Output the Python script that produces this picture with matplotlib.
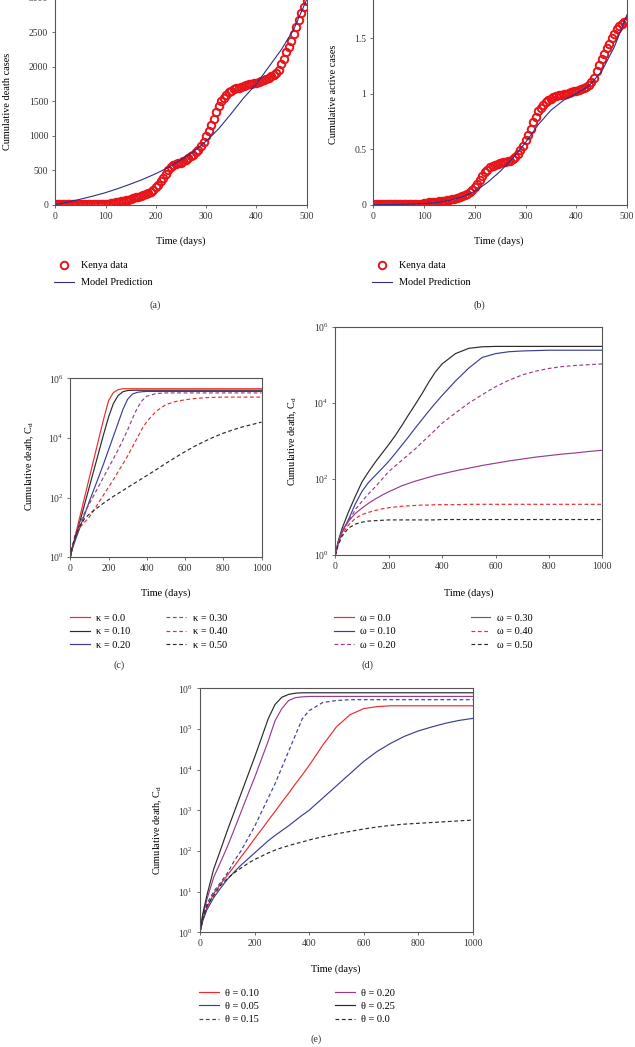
import numpy as np
import matplotlib
matplotlib.use("Agg")
import matplotlib.pyplot as plt
from matplotlib.lines import Line2D
from matplotlib.ticker import FixedLocator, NullLocator, LogFormatterSciNotation

plt.rcParams['font.family'] = ['Liberation Serif', 'DejaVu Serif']
plt.rcParams['mathtext.fontset'] = 'custom'
plt.rcParams['mathtext.rm'] = 'Liberation Serif'
plt.rcParams['mathtext.it'] = 'Liberation Serif:italic'
plt.rcParams['font.size'] = 7

TICK_FS = 6.9
LABEL_FS = 7.4

# ---- (a) / (b) Kenya data, one value every 5 days ----
days_data = np.arange(0, 505, 5)
deaths_data = [5, 5, 5, 5, 5, 5, 5, 5, 5, 5, 5, 5, 5, 5, 6, 6, 7, 8, 9, 10,
               12, 15, 20, 28, 35, 42, 48, 55, 65, 75, 85, 98, 108, 118, 130, 145, 158, 172, 190, 220,
               250, 290, 340, 385, 440, 500, 545, 570, 585, 600, 612, 628, 650, 675, 700, 725, 760, 800, 850, 910,
               990, 1070, 1150, 1240, 1340, 1430, 1500, 1550, 1590, 1630, 1655, 1675, 1690, 1700, 1712, 1722, 1735, 1745, 1752, 1760,
               1770, 1780, 1795, 1808, 1825, 1845, 1865, 1885, 1910, 1960, 2040, 2120, 2210, 2290, 2380, 2480, 2580, 2680, 2780, 2870,
               2960]
active_data = [0.01] * 20 + [
    0.015, 0.018, 0.02, 0.022, 0.025, 0.027, 0.03, 0.032, 0.035, 0.04, 0.045, 0.05, 0.055, 0.06, 0.065, 0.075, 0.085, 0.095, 0.11, 0.13,
    0.155, 0.185, 0.22, 0.255, 0.29, 0.315, 0.335, 0.35, 0.36, 0.37, 0.375, 0.38, 0.385, 0.39, 0.395, 0.41, 0.43, 0.46, 0.49, 0.53,
    0.58, 0.63, 0.68, 0.74, 0.79, 0.84, 0.87, 0.9, 0.92, 0.94, 0.955, 0.965, 0.975, 0.985, 0.99, 0.995, 1.0, 1.005, 1.01, 1.02,
    1.025, 1.03, 1.04, 1.05, 1.06, 1.075, 1.1, 1.14, 1.2, 1.26, 1.31, 1.36, 1.41, 1.45, 1.5, 1.54, 1.58, 1.61, 1.63, 1.645,
    1.655]

days_model = np.arange(0, 525, 25)
deaths_model = [0, 38, 80, 125, 175, 235, 300, 370, 450, 540, 650, 770, 920, 1100, 1320, 1550, 1750, 2000, 2250, 2550, 2970]
active_model = [0, 0.001, 0.003, 0.006, 0.01, 0.02, 0.04, 0.07, 0.12, 0.2, 0.3, 0.42, 0.56, 0.72, 0.85, 0.94, 1.0, 1.07, 1.2, 1.42, 1.71]

# ---- (c)(d)(e) simulations, log10 of cumulative deaths ----
days_sim = [0, 10, 25, 50, 75, 100, 125, 150, 175, 200, 225, 250, 275, 300, 325, 350, 375, 400,
            450, 500, 550, 600, 650, 700, 750, 800, 850, 900, 950, 1000]

kappa_labels = ['κ = 0.0', 'κ = 0.10', 'κ = 0.20', 'κ = 0.30', 'κ = 0.40', 'κ = 0.50']
kappa_log = [
    [0, 0.3, 0.7, 1.36, 2.02, 2.68, 3.34, 4.0, 4.65, 5.25, 5.52, 5.62, 5.65, 5.65, 5.65, 5.65, 5.65, 5.65,
     5.65, 5.65, 5.65, 5.65, 5.65, 5.65, 5.65, 5.65, 5.65, 5.65, 5.65, 5.65],
    [0, 0.3, 0.6, 1.19, 1.78, 2.37, 2.96, 3.55, 4.14, 4.7, 5.15, 5.42, 5.55, 5.59, 5.6, 5.6, 5.6, 5.6,
     5.6, 5.6, 5.6, 5.6, 5.6, 5.6, 5.6, 5.6, 5.6, 5.6, 5.6, 5.6],
    [0, 0.28, 0.55, 0.99, 1.44, 1.88, 2.3, 2.72, 3.15, 3.6, 4.05, 4.5, 4.95, 5.3, 5.47, 5.53, 5.55, 5.56,
     5.56, 5.56, 5.56, 5.56, 5.56, 5.56, 5.56, 5.56, 5.56, 5.56, 5.56, 5.56],
    [0, 0.3, 0.75, 1.15, 1.5, 1.8, 2.1, 2.4, 2.7, 3.0, 3.3, 3.6, 3.93, 4.27, 4.65, 5.0, 5.25, 5.4,
     5.49, 5.51, 5.51, 5.51, 5.51, 5.51, 5.51, 5.51, 5.51, 5.51, 5.51, 5.51],
    [0, 0.3, 0.7, 1.0, 1.18, 1.35, 1.6, 1.85, 2.1, 2.35, 2.6, 2.87, 3.13, 3.4, 3.7, 4.0, 4.3, 4.55,
     4.9, 5.12, 5.22, 5.28, 5.32, 5.35, 5.36, 5.37, 5.37, 5.37, 5.37, 5.37],
    [0, 0.35, 0.7, 1.05, 1.3, 1.45, 1.58, 1.7, 1.82, 1.93, 2.04, 2.14, 2.24, 2.34, 2.44, 2.54, 2.64, 2.74,
     2.94, 3.15, 3.35, 3.54, 3.72, 3.88, 4.03, 4.16, 4.27, 4.37, 4.45, 4.53],
]

omega_labels = ['ω = 0.0', 'ω = 0.10', 'ω = 0.20', 'ω = 0.30', 'ω = 0.40', 'ω = 0.50']
omega_log = [
    [0, 0.35, 0.7, 1.15, 1.55, 1.93, 2.2, 2.45, 2.68, 2.91, 3.15, 3.42, 3.7, 3.97, 4.25, 4.55, 4.82, 5.03,
     5.3, 5.44, 5.48, 5.49, 5.49, 5.49, 5.49, 5.49, 5.49, 5.49, 5.49, 5.49],
    [0, 0.3, 0.6, 0.95, 1.35, 1.68, 1.92, 2.1, 2.28, 2.47, 2.68, 2.9, 3.12, 3.35, 3.57, 3.79, 4.0, 4.2,
     4.58, 4.92, 5.2, 5.3, 5.35, 5.37, 5.38, 5.39, 5.39, 5.39, 5.39, 5.39],
    [0, 0.3, 0.6, 0.9, 1.2, 1.42, 1.62, 1.8, 2.0, 2.2, 2.35, 2.5, 2.65, 2.8, 2.97, 3.13, 3.3, 3.47,
     3.74, 4.0, 4.22, 4.43, 4.6, 4.74, 4.84, 4.91, 4.96, 4.99, 5.01, 5.03],
    [0, 0.3, 0.65, 0.9, 1.1, 1.24, 1.37, 1.48, 1.58, 1.67, 1.75, 1.83, 1.89, 1.95, 2.0, 2.05, 2.1, 2.14,
     2.22, 2.29, 2.36, 2.42, 2.48, 2.53, 2.58, 2.62, 2.66, 2.69, 2.73, 2.76],
    [0, 0.28, 0.55, 0.8, 0.97, 1.07, 1.13, 1.18, 1.22, 1.25, 1.27, 1.29, 1.3, 1.31, 1.32, 1.32, 1.33, 1.33,
     1.33, 1.34, 1.34, 1.34, 1.34, 1.34, 1.34, 1.34, 1.34, 1.34, 1.34, 1.34],
    [0, 0.25, 0.5, 0.72, 0.82, 0.87, 0.9, 0.91, 0.92, 0.93, 0.93, 0.93, 0.93, 0.93, 0.93, 0.93, 0.93, 0.94,
     0.94, 0.94, 0.94, 0.94, 0.94, 0.94, 0.94, 0.94, 0.94, 0.94, 0.94, 0.94],
]

theta_labels = ['θ = 0.10', 'θ = 0.05', 'θ = 0.15', 'θ = 0.20', 'θ = 0.25', 'θ = 0.0']
theta_log = [
    [0, 0.3, 0.6, 0.95, 1.18, 1.4, 1.62, 1.85, 2.07, 2.3, 2.52, 2.75, 2.97, 3.2, 3.42, 3.65, 3.87, 4.1,
     4.6, 5.05, 5.35, 5.5, 5.55, 5.57, 5.57, 5.57, 5.57, 5.57, 5.57, 5.57],
    [0, 0.28, 0.55, 0.85, 1.08, 1.3, 1.48, 1.65, 1.8, 1.95, 2.1, 2.25, 2.38, 2.5, 2.62, 2.75, 2.88, 3.0,
     3.3, 3.6, 3.9, 4.2, 4.45, 4.65, 4.82, 4.95, 5.05, 5.14, 5.21, 5.26],
    [0, 0.35, 0.7, 1.0, 1.22, 1.45, 1.75, 2.0, 2.3, 2.6, 2.95, 3.3, 3.65, 4.05, 4.45, 4.85, 5.25, 5.45,
     5.65, 5.7, 5.72, 5.72, 5.72, 5.72, 5.72, 5.72, 5.72, 5.72, 5.72, 5.72],
    [0, 0.4, 0.8, 1.35, 1.72, 2.1, 2.52, 2.95, 3.38, 3.8, 4.25, 4.7, 5.2, 5.5, 5.7, 5.77, 5.79, 5.8,
     5.8, 5.8, 5.8, 5.8, 5.8, 5.8, 5.8, 5.8, 5.8, 5.8, 5.8, 5.8],
    [0, 0.45, 0.9, 1.55, 2.02, 2.5, 2.95, 3.4, 3.85, 4.3, 4.77, 5.25, 5.6, 5.78, 5.85, 5.88, 5.89, 5.89,
     5.89, 5.89, 5.89, 5.89, 5.89, 5.89, 5.89, 5.89, 5.89, 5.89, 5.89, 5.89],
    [0, 0.35, 0.65, 0.9, 1.15, 1.32, 1.46, 1.58, 1.69, 1.79, 1.87, 1.95, 2.02, 2.08, 2.13, 2.18, 2.22, 2.27,
     2.35, 2.42, 2.48, 2.54, 2.59, 2.63, 2.66, 2.68, 2.7, 2.72, 2.74, 2.76],
]

RED = '#ee2a2a'
BLACK = '#2b2b2b'
BLUE = '#3a3f95'
PURPLE = '#9a3c8c'
DASH = (0, (3.2, 2.2))

kappa_style = [(RED, '-'), (BLACK, '-'), (BLUE, '-'), (PURPLE, DASH), (RED, DASH), (BLACK, DASH)]
omega_style = [(BLACK, '-'), (BLUE, '-'), (PURPLE, DASH), (PURPLE, '-'), (RED, DASH), (BLACK, DASH)]
theta_style = [(RED, '-'), (BLUE, '-'), (BLUE, DASH), (PURPLE, '-'), (BLACK, '-'), (BLACK, DASH)]

W, H = 635, 1047
fig = plt.figure(figsize=(W / 100, H / 100), dpi=100)


def px_axes(x0, y0, x1, y1):
    return fig.add_axes([x0 / W, 1 - y1 / H, (x1 - x0) / W, (y1 - y0) / H])


def style(ax):
    for s in ax.spines.values():
        s.set_color('#555555')
        s.set_linewidth(0.8)
    ax.tick_params(direction='out', length=2.5, width=0.6, color='#555555',
                   labelcolor='#333333', pad=2.5, labelsize=TICK_FS)


def place_labels(ax, xl, yl):
    ax.xaxis.set_label_coords(xl[0] / W, 1 - xl[1] / H, transform=fig.transFigure)
    ax.yaxis.set_label_coords(yl[0] / W, 1 - yl[1] / H, transform=fig.transFigure)
    ax.xaxis.label.set_va('center')
    ax.yaxis.label.set_va('center')


def legend(ax, handles, labels, x, y, ncol, colsp, lsp, pad=0.75):
    ax.legend(handles, labels, loc='upper left', bbox_to_anchor=(x / W, 1 - y / H),
              bbox_transform=fig.transFigure, frameon=False, ncol=ncol, borderpad=0,
              borderaxespad=0, handlelength=1.9, handletextpad=pad,
              columnspacing=colsp, labelspacing=lsp, fontsize=LABEL_FS)


# (a)
ax = px_axes(55.3, -2.1, 306.5, 204.7)
style(ax)
d_pts, = ax.plot(days_data, deaths_data, 'o', mfc='none', mec='#e8141a', ms=5.4, mew=1.4)
m_line, = ax.plot(days_model, deaths_model, color='#2c3185', lw=0.8)
ax.set_xlim(0, 500)
ax.set_ylim(0, 3000)
ax.set_xticks(range(0, 501, 100))
ax.set_yticks(range(0, 3001, 500))
ax.set_xlabel('Time (days)', fontsize=LABEL_FS)
ax.set_ylabel('Cumulative death cases', fontsize=LABEL_FS)
place_labels(ax, (181, 241), (8, 101))
legend(ax, [d_pts, m_line], ['Kenya data', 'Model Prediction'], 54, 261, 1, 2, 0.78)

# (b)
ax = px_axes(373.3, -17.5, 627, 204.7)
style(ax)
d_pts, = ax.plot(days_data, active_data, 'o', mfc='none', mec='#e8141a', ms=5.4, mew=1.4)
m_line, = ax.plot(days_model, active_model, color='#2c3185', lw=0.8)
ax.set_xlim(0, 500)
ax.set_ylim(0, 2)
ax.set_xticks(range(0, 501, 100))
ax.set_yticks([0, 0.5, 1, 1.5])
ax.set_yticklabels(['0', '0.5', '1', '1.5'])
ax.set_xlabel('Time (days)', fontsize=LABEL_FS)
ax.set_ylabel('Cumulative active cases', fontsize=LABEL_FS)
place_labels(ax, (499, 241), (333, 94))
legend(ax, [d_pts, m_line], ['Kenya data', 'Model Prediction'], 372, 261, 1, 2, 0.78)


def log_panel(box, logs, styles, labels, xl, yl, leg_xy, colsp, lsp, yticks, swap_first=None):
    ax = px_axes(*box)
    style(ax)
    lines = []
    for vals, (c, ls) in zip(logs, styles):
        ln, = ax.plot(days_sim, np.power(10.0, vals), color=c, ls=ls, lw=0.85)
        lines.append(ln)
    ax.set_yscale('log')
    ax.set_xlim(0, 1000)
    ax.set_ylim(1, 1e6)
    ax.set_xticks(range(0, 1001, 200))
    ax.yaxis.set_major_locator(FixedLocator(yticks))
    ax.yaxis.set_major_formatter(LogFormatterSciNotation())
    ax.yaxis.set_minor_locator(NullLocator())
    ax.set_xlabel('Time (days)', fontsize=LABEL_FS)
    ax.set_ylabel('Cumulative death, C$_\\mathrm{d}$', fontsize=LABEL_FS)
    place_labels(ax, xl, yl)
    handles = list(lines)
    if swap_first is not None:
        handles[0] = Line2D([], [], color=swap_first, lw=0.85)
    legend(ax, handles, labels, leg_xy[0], leg_xy[1], 2, colsp, lsp, pad=0.65)
    return ax


log_panel((70.3, 378.3, 261.5, 557.3), kappa_log, kappa_style, kappa_labels,
          (166, 592.7), (30, 466), (70, 613.5), 3.5, 0.43, [1, 1e2, 1e4, 1e6])
log_panel((335.3, 327, 602.3, 555.3), omega_log, omega_style, omega_labels,
          (468.5, 592.7), (292.5, 441), (334, 613.5), 7.3, 0.43, [1, 1e2, 1e4, 1e6], swap_first=RED)
log_panel((200, 688.3, 472.7, 932.3), theta_log, theta_style, theta_labels,
          (336, 969), (158, 830), (199, 988.5), 7.4, 0.4, [10.0 ** k for k in range(7)])

for txt, x, y in [('(a)', 155, 305), ('(b)', 479, 305), ('(c)', 119, 665),
                  ('(d)', 368, 665), ('(e)', 316, 1039)]:
    fig.text(x / W, 1 - y / H, txt, ha='center', va='center', fontsize=LABEL_FS, color='#333333')

fig.savefig('out.png', dpi=100)
